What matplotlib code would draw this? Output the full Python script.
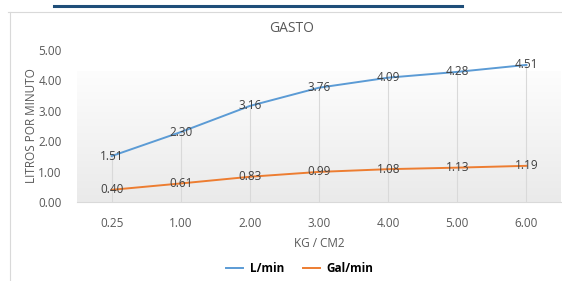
import numpy as np
import matplotlib
matplotlib.use("Agg")
import matplotlib.pyplot as plt
from matplotlib.lines import Line2D

categories = ["0.25", "1.00", "2.00", "3.00", "4.00", "5.00", "6.00"]
l_min = [1.51, 2.30, 3.16, 3.76, 4.09, 4.28, 4.51]
gal_min = [0.40, 0.61, 0.83, 0.99, 1.08, 1.13, 1.19]

BLUE, ORANGE, GREY = "#5B9BD5", "#ED7D31", "#595959"
plt.rcParams["font.family"] = ["Open Sans", "DejaVu Sans"]
FS = 8.5

fig = plt.figure(figsize=(5.62, 2.81), dpi=100)
# frame lines of the embedded chart
fig.add_artist(Line2D([54 / 562, 462 / 562], [1 - 6 / 281] * 2, color="#1F4E79", lw=2.2))
fig.add_artist(Line2D([8 / 562, 1], [1 - 12 / 281] * 2, color="#D9D9D9", lw=0.8))
fig.add_artist(Line2D([10 / 562] * 2, [0, 1 - 12 / 281], color="#D9D9D9", lw=0.8))

ax = fig.add_axes([77 / 562, 1 - 202 / 281, (561 - 77) / 562, 152 / 281])
x = np.arange(len(categories))
ax.set_xlim(-0.5, len(categories) - 0.5)
ax.set_ylim(0, 5)

# gradient plot-area background (near white at top, grey at bottom)
top = 4.3
grad = np.linspace(0, 1, 256).reshape(-1, 1)
ax.imshow(grad, extent=(-0.5, len(categories) - 0.5, 0, top), aspect="auto",
          cmap=matplotlib.colors.LinearSegmentedColormap.from_list("g", ["#FDFDFD", "#EAEAEA"]),
          zorder=0)

for xi, v in zip(x, l_min):
    ax.plot([xi, xi], [0, v], color="#D9D9D9", lw=0.8, zorder=1)

ax.plot(x, l_min, color=BLUE, lw=1.4, zorder=3)
ax.plot(x, gal_min, color=ORANGE, lw=1.4, zorder=3)
for xi, a, b in zip(x, l_min, gal_min):
    ax.text(xi, a, f"{a:.2f}", ha="center", va="center", fontsize=FS, color="#404040", zorder=4)
    ax.text(xi, b, f"{b:.2f}", ha="center", va="center", fontsize=FS, color="#404040", zorder=4)

ax.set_xticks(x)
ax.set_xticklabels(categories)
ax.set_yticks(np.arange(0, 5.01, 1))
ax.set_yticklabels([f"{t:.2f}" for t in np.arange(0, 5.01, 1)])
ax.tick_params(length=0, labelsize=FS, colors=GREY)
ax.tick_params(axis="x", pad=11)
ax.tick_params(axis="y", pad=11)
for s in ("top", "right", "left"):
    ax.spines[s].set_visible(False)
ax.spines["bottom"].set_color("#D9D9D9")
ax.set_xlabel("KG / CM2", fontsize=FS, color=GREY, labelpad=5)
ax.set_ylabel("LITROS POR MINUTO", fontsize=FS, color=GREY, labelpad=0)
fig.text(292 / 562, 1 - 28 / 281, "GASTO", ha="center", va="center", fontsize=10, color=GREY)

handles = [Line2D([], [], color=BLUE, lw=1.4), Line2D([], [], color=ORANGE, lw=1.4)]
fig.legend(handles, ["L/min", "Gal/min"], loc="center", bbox_to_anchor=(300 / 562, 1 - 269 / 281),
           ncol=2, frameon=False, prop={"size": FS, "weight": "bold"}, handlelength=1.4,
           handletextpad=0.6, columnspacing=1.6)

fig.savefig("out.png", dpi=100)
